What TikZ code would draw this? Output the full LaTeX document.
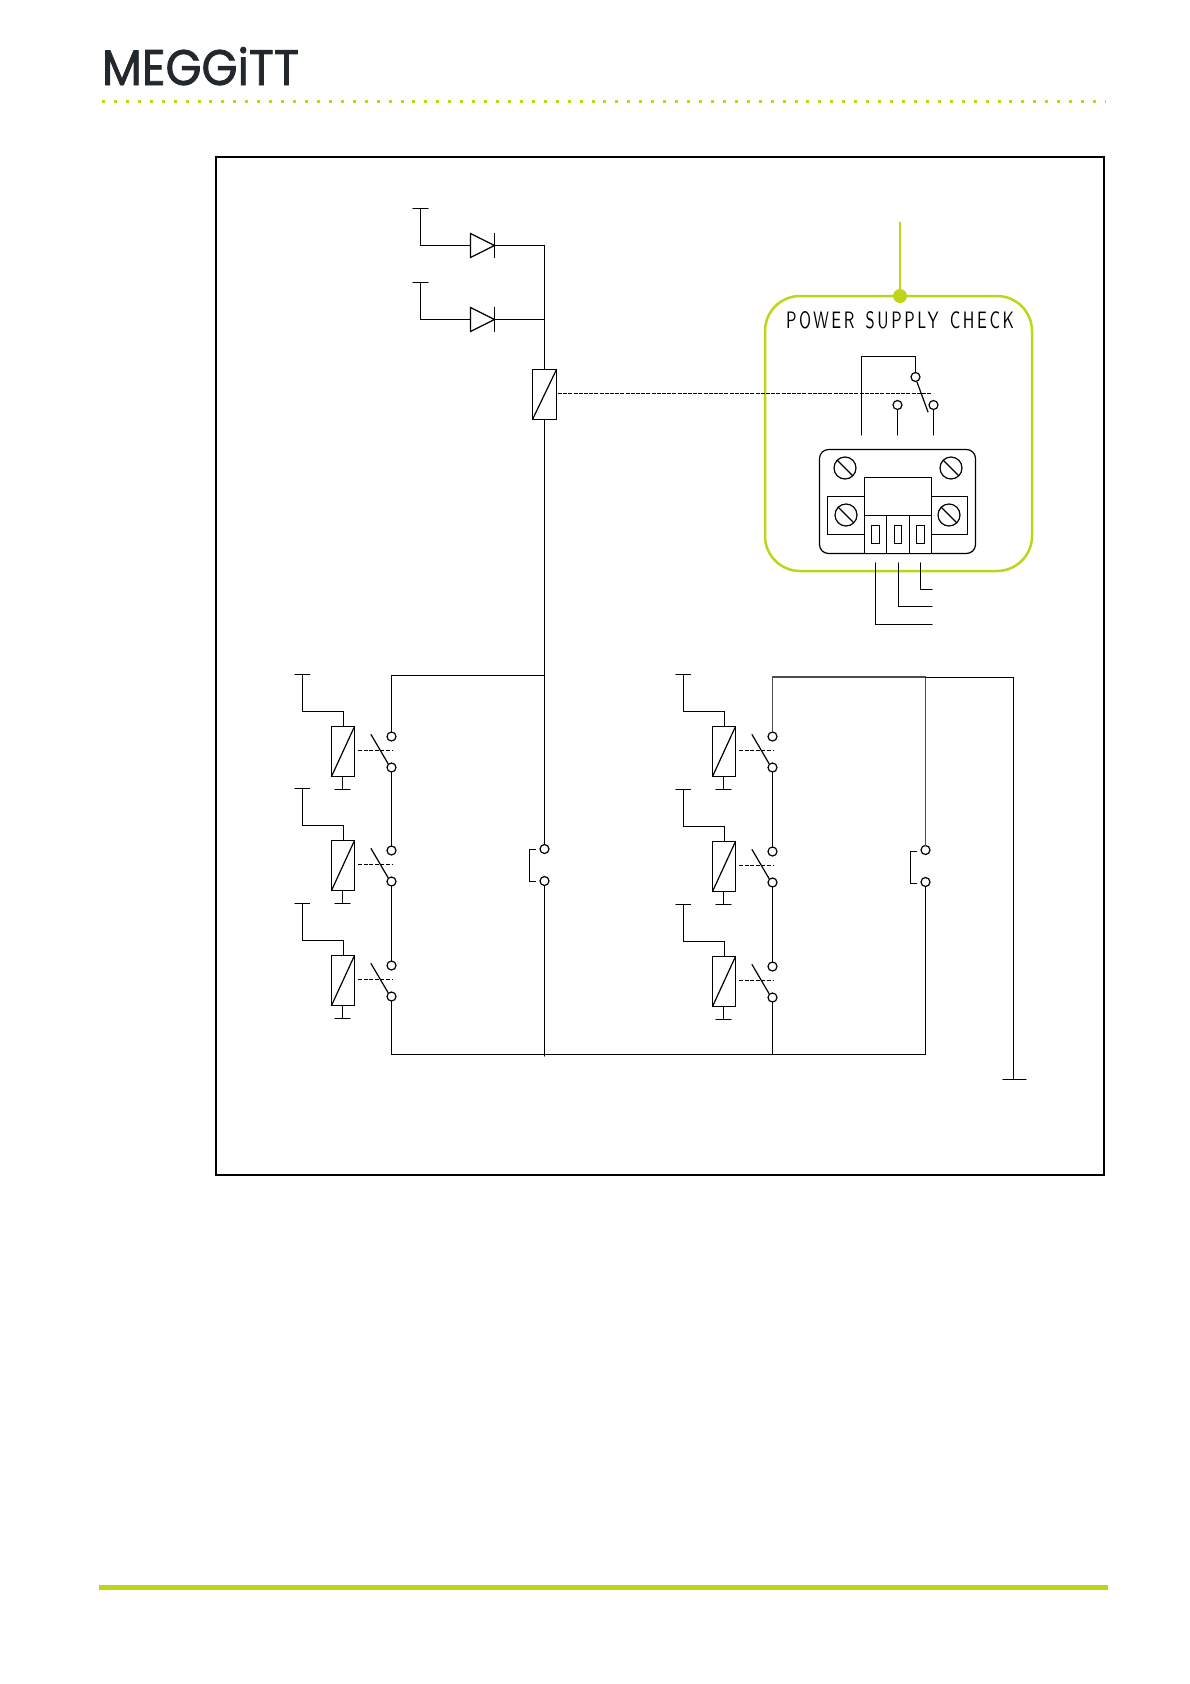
\documentclass[tikz,border=0pt]{standalone}
\usepackage{fontspec}
\usepackage{graphicx}
\newfontfamily\logofont[FakeBold=1.6]{Poppins}
\newfontfamily\labelfont[LetterSpace=16,WordSpace=1.4]{Latin Modern Sans}
\definecolor{mgreen}{HTML}{BFD51A}
\definecolor{mdark}{HTML}{23282F}
\tikzset{
  x=1pt,y=-1pt,
  every node/.style={inner sep=0pt,outer sep=0pt},
  wire/.style={line width=1.2pt,line cap=round,line join=miter},
  ctl/.style={line width=1.1pt,dash pattern=on 4pt off 1.6pt},
  coilbox/.style={draw,line width=1.2pt,fill=white,minimum width=23pt,minimum height=50pt},
  contact/.style={circle,draw,line width=1.2pt,fill=white,minimum size=9pt},
  screw/.style={circle,draw,line width=1.2pt,minimum size=22pt},
  plain/.style={rectangle,draw,line width=1.2pt},
  frameline/.style={draw,line width=2pt},
  greenline/.style={draw=mgreen,line width=2.5pt}
}
% one relay unit: id, coil centre x, coil centre y
\newcommand{\relayunit}[3]{%
  \begin{scope}[shift={(#2,#3)}]
    \node[coilbox] (#1coil) at (0.5,0) {};
    \draw[wire] (#1coil.south west) -- (#1coil.north east);
    \node[contact] (#1top) at (49,-15) {};
    \node[contact] (#1bot) at (49,16) {};
    \coordinate (#1bar) at (-40,-77);
    \coordinate (#1barl) at (-47.5,-77);
    \coordinate (#1barr) at (-33,-77);
    \coordinate (#1knee) at (-40,-40);
    \coordinate (#1hook) at (1,-40);
    \coordinate (#1gnd) at (0,38);
    \coordinate (#1gndl) at (-7.5,38);
    \coordinate (#1gndr) at (7.5,38);
    \coordinate (#1bl) at (28.5,-17);
    \coordinate (#1br) at (45.5,12);
    \coordinate (#1dl) at (15.5,-1);
    \coordinate (#1dr) at (50.5,-1);
    \draw[wire] (#1barl) -- (#1barr);
    \draw[wire] (#1bar) -- (#1knee) -- (#1hook) -- (#1hook |- #1coil.north);
    \draw[wire] (#1gnd |- #1coil.south) -- (#1gnd);
    \draw[wire] (#1gndl) -- (#1gndr);
    \draw[wire] (#1bl) -- (#1br);
    \draw[ctl] (#1dl) -- (#1dr);
  \end{scope}%
}
% diode row: id, y of the row
\newcommand{\dioderow}[2]{%
  \coordinate (#1bar) at (420.5,#2-37);
  \coordinate (#1barl) at (413,#2-37);
  \coordinate (#1barr) at (428,#2-37);
  \coordinate (#1knee) at (420.5,#2);
  \coordinate (#1a) at (470.5,#2);
  \coordinate (#1au) at (470.5,#2-12);
  \coordinate (#1ad) at (470.5,#2+12);
  \coordinate (#1k) at (494.5,#2);
  \coordinate (#1ku) at (494.5,#2-12);
  \coordinate (#1kd) at (494.5,#2+12);
  \coordinate (#1end) at (544.5,#2);
  \draw[wire] (#1barl) -- (#1barr);
  \draw[wire] (#1bar) -- (#1knee) -- (#1a);
  \draw[wire,line join=miter] (#1au) -- (#1k) -- (#1ad) -- cycle;
  \draw[wire] (#1ku) -- (#1kd);
  \draw[wire] (#1k) -- (#1end);
}
\begin{document}
\begin{tikzpicture}
\useasboundingbox (0,0) rectangle (1190,1684);
\fill[white] (0,0) rectangle (1190,1684);

% page furniture
\node[anchor=north west,text=mdark] (logo) at (102,47)
  {\resizebox{197pt}{38pt}{\logofont MEGGiTT}};
\coordinate (dotl) at (102,101);
\coordinate (dotr) at (1105,101);
\draw[mgreen,line width=3pt,dash pattern=on 3pt off 8.94pt] (dotl) -- (dotr);
\coordinate (barl) at (99,1587.5);
\coordinate (barr) at (1108,1587.5);
\draw[mgreen,line width=5pt] (barl) -- (barr);
\node[frameline,minimum width=888pt,minimum height=1018pt] (frame) at (660,666) {};

% supply side
\dioderow{da}{245.5}
\dioderow{db}{319.5}
\node[coilbox,minimum width=24pt] (main) at (544.5,394.5) {};
\draw[wire] (main.south west) -- (main.north east);
\draw[wire] (daend) -- (dbend) -- (main.north);

% green call-out
\node[rectangle,greenline,rounded corners=35pt,minimum width=267pt,minimum height=275pt] (callout) at (898.5,433.5) {};
\coordinate (stem) at (900,222);
\draw[mgreen,line width=2.5pt] (stem) -- (stem |- callout.north);
\node[circle,fill=mgreen,minimum size=14pt] (pin) at (900,296) {};
\node[text=black] (title) at (900,320.5)
  {\resizebox{228pt}{17pt}{\labelfont POWER SUPPLY CHECK}};

% changeover contact
\node[contact] (cc) at (915.5,377) {};
\node[contact] (cno) at (897.5,405) {};
\node[contact] (cnc) at (933.5,405) {};
\coordinate (tl) at (861.5,356.5);
\coordinate (tr) at (915.5,356.5);
\coordinate (lowa) at (861.5,435);
\coordinate (lowb) at (897.5,435);
\coordinate (lowc) at (933.5,435);
\coordinate (blades) at (917,382);
\coordinate (bladee) at (928,412);
\coordinate (dashe) at (932,393.5);
\coordinate (dashs) at (558,393.5);
\draw[wire] (lowa) -- (tl) -- (tr) -- (cc.north);
\draw[wire] (cno.south) -- (lowb);
\draw[wire] (cnc.south) -- (lowc);
\draw[wire] (blades) -- (bladee);
\draw[line width=1pt,dash pattern=on 4pt off 1.2pt] (dashs) -- (dashe);

% terminal block
\node[plain,rounded corners=9pt,minimum width=156pt,minimum height=104pt] (block) at (897.5,501.5) {};
\node[plain,fill=white,minimum width=37pt,minimum height=38pt] (sidel) at (846,515.5) {};
\node[plain,fill=white,minimum width=36pt,minimum height=38pt] (sider) at (949.5,515.5) {};
\node[plain,fill=white,minimum width=67pt,minimum height=38pt] (plug) at (898,496.5) {};
\node[plain,fill=white,minimum width=22pt,minimum height=38pt] (pa) at (875.5,534.5) {};
\node[plain,fill=white,minimum width=23pt,minimum height=38pt] (pb) at (898,534.5) {};
\node[plain,fill=white,minimum width=22pt,minimum height=38pt] (pc) at (920.5,534.5) {};
\node[plain,minimum width=8pt,minimum height=18pt] (sa) at (875.5,534.5) {};
\node[plain,minimum width=7pt,minimum height=18pt] (sb) at (898,534.5) {};
\node[plain,minimum width=8pt,minimum height=18pt] (sc) at (920.5,534.5) {};
\foreach \n/\x/\y in {s1/845/468,s2/951/468,s3/846/515,s4/949/515}{
  \node[screw] (\n) at (\x,\y) {};
  \draw[wire,line cap=butt] (\n.135) -- (\n.-45);
}
\coordinate (wa) at (875.5,563);
\coordinate (wb) at (898.5,563);
\coordinate (wc) at (920.5,563);
\coordinate (wak) at (875.5,624.5);
\coordinate (wbk) at (898.5,606.5);
\coordinate (wck) at (920.5,589.5);
\coordinate (wae) at (932,624.5);
\coordinate (wbe) at (932,606.5);
\coordinate (wce) at (932,589.5);
\draw[wire] (wa) -- (wak) -- (wae);
\draw[wire] (wb) -- (wbk) -- (wbe);
\draw[wire] (wc) -- (wck) -- (wce);

% relay banks
\relayunit{la}{342.5}{751.5}
\relayunit{lb}{342.5}{865.5}
\relayunit{lc}{342.5}{980.5}
\relayunit{ra}{723.5}{751.5}
\relayunit{rb}{723.5}{866.5}
\relayunit{rc}{723.5}{981.5}

% centre contact on the main line
\node[contact] (ma) at (544.5,849) {};
\node[contact] (mb) at (544.5,881) {};
\coordinate (mbra) at (529.5,849.5);
\coordinate (mbrb) at (529.5,881.5);
\coordinate (mbrae) at (535.5,849.5);
\coordinate (mbrbe) at (535.5,881.5);
\draw[wire] (mbrae) -- (mbra) -- (mbrb) -- (mbrbe);

% right contact
\node[contact] (na) at (925.5,850) {};
\node[contact] (nb) at (925.5,882) {};
\coordinate (nbra) at (910.5,851.5);
\coordinate (nbrb) at (910.5,883.5);
\coordinate (nbrae) at (916.5,851.5);
\coordinate (nbrbe) at (916.5,883.5);
\draw[wire] (nbrae) -- (nbra) -- (nbrb) -- (nbrbe);

% buses
\coordinate (lbus) at (391.5,675.5);
\coordinate (mjoin) at (544.5,675.5);
\coordinate (bl) at (391.5,1054.5);
\coordinate (bk) at (544.5,1056);
\coordinate (brr) at (772.5,1054.5);
\coordinate (bn) at (925.5,1054.5);
\coordinate (rtop) at (772.5,677);
\coordinate (ntop) at (925.5,677);
\coordinate (grt) at (1013.5,677.5);
\coordinate (gnd) at (1013.5,1079.5);
\coordinate (gndl) at (1003,1079.5);
\coordinate (gndr) at (1026,1079.5);

\draw[wire] (main.south) -- (mjoin) -- (ma.north);
\draw[wire] (mb.south) -- (bk);
\draw[wire] (mjoin) -- (lbus) -- (latop.north);
\draw[wire] (labot.south) -- (lbtop.north);
\draw[wire] (lbbot.south) -- (lctop.north);
\draw[wire] (lcbot.south) -- (bl) -- (bn) -- (nb.south);

\draw[line width=1.3pt,black!70] (ratop.north) -- (rtop) -- (ntop) -- (na.north);
\draw[wire] (ntop |- grt) -- (grt) -- (gnd);
\draw[wire] (gndl) -- (gndr);
\draw[wire] (rabot.south) -- (rbtop.north);
\draw[wire] (rbbot.south) -- (rctop.north);
\draw[wire] (rcbot.south) -- (brr);
\end{tikzpicture}
\end{document}
